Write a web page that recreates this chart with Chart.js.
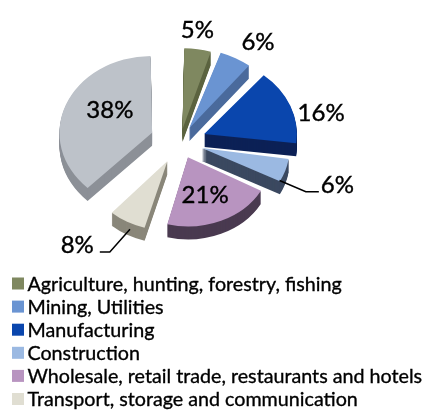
<!DOCTYPE html>
<html>
<head>
<meta charset="utf-8">
<script src="https://cdn.jsdelivr.net/npm/chart.js@4/dist/chart.umd.min.js"></script>
<style>
  html, body { margin: 0; padding: 0; background: #ffffff; }
  #wrap { width: 426px; height: 410px; }
</style>
</head>
<body>
<div id="wrap"><canvas id="c" width="426" height="410"></canvas></div>
<script>
// Share of output by sector, per cent
const categories = [
  'Agriculture, hunting, forestry, fishing',
  'Mining, Utilities',
  'Manufacturing',
  'Construction',
  'Wholesale, retail trade, restaurants and hotels',
  'Transport, storage and communication',
  'Other services'
];
const shares = [5, 6, 16, 6, 21, 8, 38];
const shareLabels = ['5%', '6%', '16%', '6%', '21%', '8%', '38%'];
// how many entries the legend lists
const legendCount = 6;

// slice styling
const topColors  = ['#7f8860', '#6a94d2', '#0a46ad', '#9bb9e2', '#b894c0', '#e0ded2', '#bdc2c9'];
const sideColors = ['#5c6440', '#4a6a9c', '#0c2156', '#3b4960', '#4a3a50', '#8a877a', '#8c9097'];
const explode    = [16, 19, 26, 23, 20, 26, 30];     // pull-out distance, px
const labelRadius = [142, 148, 146, 166, 70, 164, 81];
const labelTurn   = [-2, 3, 6.7, 0.5, 2.4, 10, 8.4]; // degrees past the slice middle
const leaderSlices = [3, 5];

const RADIUS = 90;
const TILT = 0.83;        // vertical squash of the pie
const PERSPECTIVE = 0.08; // far slices drawn a little larger than near ones
const DEPTH = 13;         // thickness of the pie, px
const FONT = 'Lato, "Liberation Sans", Arial, sans-serif';

function sliceRadius(arc) {
  const mid = (arc.startAngle + arc.endAngle) / 2;
  return RADIUS * (1 - PERSPECTIVE * Math.sin(mid));
}

const pie3d = {
  id: 'pie3d',
  beforeDatasetsDraw(chart) {
    const ctx = chart.ctx;
    const arcs = chart.getDatasetMeta(0).data;
    // Chart.js grows a pulled-out slice's radius; undo that and apply the perspective size
    arcs.forEach((arc, i) => {
      const fix = 1 - Math.sin(Math.min(Math.PI, arc.circumference));
      arc.outerRadius = sliceRadius(arc) - explode[i] * fix;
    });
    const cx = arcs[0].x, cy = arcs[0].y;
    ctx.save();
    ctx.translate(cx, cy);
    ctx.scale(1, TILT);
    ctx.translate(-cx, -cy);
    // side walls: the slice shape stacked downwards in a darker tone
    arcs.forEach((arc, i) => {
      const wall = Object.create(arc);
      wall.options = Object.assign({}, arc.options, {
        backgroundColor: sideColors[i], borderWidth: 0
      });
      for (let k = DEPTH; k >= 1; k--) {
        ctx.save();
        ctx.translate(0, k / TILT);
        arc.draw.call(wall, ctx);
        ctx.restore();
      }
    });
  },
  afterDatasetsDraw(chart) {
    chart.ctx.restore();
  },
  afterDraw(chart) {
    const ctx = chart.ctx;
    const arcs = chart.getDatasetMeta(0).data;
    const size = 24;
    ctx.save();
    ctx.fillStyle = '#000';
    ctx.strokeStyle = '#000';
    ctx.font = size + 'px ' + FONT;
    ctx.textAlign = 'center';
    ctx.textBaseline = 'alphabetic';
    arcs.forEach((arc, i) => {
      const mid = (arc.startAngle + arc.endAngle) / 2;
      const a = mid + labelTurn[i] * Math.PI / 180;
      const x = arc.x + Math.cos(a) * labelRadius[i];
      const y = arc.y + Math.sin(a) * labelRadius[i] * 0.8;
      const base = y + size * 0.36;
      ctx.lineWidth = 0.4;
      ctx.fillText(shareLabels[i], x, base);
      ctx.strokeText(shareLabels[i], x, base);
      if (leaderSlices.includes(i)) {
        const w = ctx.measureText(shareLabels[i]).width;
        const r = explode[i] + sliceRadius(arc) * 0.93;
        const sx = arc.x + Math.cos(mid) * r;
        const sy = arc.y + Math.sin(mid) * r * TILT + DEPTH * 0.9;
        const rightSide = Math.cos(mid) > 0;
        const ex = rightSide ? x - w / 2 - 2 : x + w / 2 + 6;
        const ey = base - 1;
        const kx = rightSide ? ex - 13 : ex + 10;
        ctx.lineWidth = 1.5;
        ctx.beginPath();
        ctx.moveTo(sx, sy);
        ctx.lineTo(kx, ey);
        ctx.lineTo(ex, ey);
        ctx.stroke();
      }
    });

    // legend
    ctx.font = '19.7px ' + FONT;
    ctx.textAlign = 'left';
    ctx.lineWidth = 0.35;
    for (let i = 0; i < legendCount; i++) {
      const yc = 283.5 + i * 23.1;
      ctx.fillStyle = topColors[i];
      ctx.fillRect(12, yc - 6, 12, 12);
      ctx.fillStyle = '#000';
      ctx.fillText(categories[i], 27.5, yc + 7);
      ctx.strokeText(categories[i], 27.5, yc + 7);
    }
    ctx.restore();
  }
};

new Chart(document.getElementById('c'), {
  type: 'pie',
  data: {
    labels: categories,
    datasets: [{
      data: shares,
      backgroundColor: topColors,
      borderWidth: 0,
      offset: explode.map(v => v * 4)
    }]
  },
  options: {
    responsive: false,
    animation: false,
    events: [],
    radius: RADIUS,
    rotation: 0,
    layout: { padding: { left: 0, right: 66, top: 0, bottom: 126 } },
    plugins: { legend: { display: false }, tooltip: { enabled: false } }
  },
  plugins: [pie3d]
});
</script>
</body>
</html>
